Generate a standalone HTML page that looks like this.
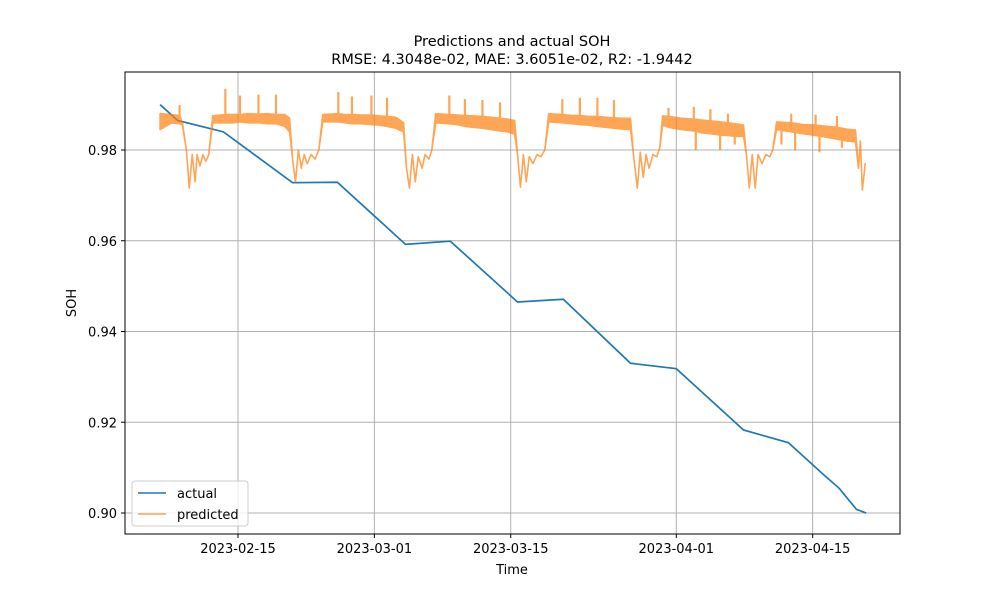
<!DOCTYPE html>
<html><head><meta charset="utf-8"><style>
body{margin:0;background:#fff;font-family:"Liberation Sans","DejaVu Sans",sans-serif}
svg text{font-family:"DejaVu Sans","Liberation Sans",sans-serif}
</style></head><body>
<svg id="chart" width="1000" height="600" viewBox="0 0 1000 600" xmlns="http://www.w3.org/2000/svg">
<rect width="1000" height="600" fill="#fff"/>
<text x="512" y="46" text-anchor="middle" font-size="14.5">Predictions and actual SOH</text>
<text x="512" y="64" text-anchor="middle" font-size="14.5">RMSE: 4.3048e-02, MAE: 3.6051e-02, R2: -1.9442</text>
<g id="grid"></g>
<g id="series"></g>
<rect x="125" y="72" width="775" height="462" fill="none" stroke="#000" stroke-width="1"/>
<g id="axes"></g>
<text x="512" y="574" text-anchor="middle" font-size="13">Time</text>
<text transform="translate(76,303) rotate(-90)" text-anchor="middle" font-size="13">SOH</text>
<g>
<rect x="132" y="481" width="116" height="45" rx="3" fill="#fff" fill-opacity="0.8" stroke="#ccc"/>
<line x1="138" y1="493" x2="166" y2="493" stroke="#1f77b4" stroke-width="1.6"/>
<text x="177" y="498" font-size="13">actual</text>
<line x1="138" y1="514" x2="166" y2="514" stroke="#ff7f0e" stroke-opacity="0.7" stroke-width="1.6"/>
<text x="177" y="519" font-size="13">predicted</text>
</g>
</svg>
<script>
// days are offsets from 2023-02-15
const xTickDays = [0, 14, 28, 45, 59];
const xTickLabels = ["2023-02-15","2023-03-01","2023-03-15","2023-04-01","2023-04-15"];
const yTicks = [0.90, 0.92, 0.94, 0.96, 0.98];
const actualDays = [-8.0,-6.2,-1.5,5.6,10.2,17.2,21.8,28.7,33.4,40.3,45.0,51.9,56.5,60.2,61.7,63.5,64.5];
const actualVals = [0.9900,0.9865,0.9840,0.9728,0.9729,0.9592,0.9599,0.9465,0.9471,0.9330,0.9318,0.9183,0.9155,0.9083,0.9055,0.9008,0.9000];
const predDays = [-8.0,-6.8,-6.0,-5.7,-5.3,-5.0,-4.7,-4.4,-4.2,-3.9,-3.6,-3.3,-3.0,-2.6,-1.3,-0.5,0.2,1.0,2.1,3.0,3.9,4.8,5.3,5.6,5.9,6.2,6.5,6.8,7.1,7.5,7.9,8.3,8.7,10.3,11.0,11.7,12.7,13.7,14.5,15.3,16.2,17.0,17.3,17.6,17.9,18.2,18.5,18.9,19.2,19.6,19.9,20.3,21.7,22.5,23.3,24.2,25.1,26.0,26.9,27.7,28.4,28.7,29.0,29.3,29.6,29.9,30.3,30.7,31.1,31.5,31.9,33.3,34.2,35.1,36.0,36.9,37.8,38.6,39.5,40.3,40.6,41.0,41.3,41.6,41.9,42.2,42.6,43.0,43.3,43.6,44.2,45.5,46.8,47.6,48.5,49.5,50.3,51.0,51.9,52.2,52.5,52.8,53.1,53.4,53.8,54.2,54.6,54.9,55.3,56.8,58.0,59.3,60.5,61.5,62.5,63.4,63.7,63.9,64.1,64.4];
const predHi = [0.9880,0.9878,0.9876,0.9860,0.9800,0.9716,0.9790,0.9730,0.9790,0.9765,0.9790,0.9775,0.9790,0.9875,0.9878,0.9878,0.9878,0.9880,0.9879,0.9880,0.9878,0.9878,0.9870,0.9780,0.9730,0.9800,0.9760,0.9790,0.9770,0.9790,0.9780,0.9800,0.9878,0.9880,0.9878,0.9878,0.9877,0.9877,0.9875,0.9874,0.9872,0.9860,0.9760,0.9716,0.9790,0.9730,0.9785,0.9760,0.9790,0.9780,0.9800,0.9880,0.9878,0.9877,0.9876,0.9875,0.9874,0.9872,0.9870,0.9868,0.9865,0.9790,0.9718,0.9790,0.9730,0.9785,0.9770,0.9790,0.9785,0.9800,0.9880,0.9878,0.9876,0.9876,0.9874,0.9874,0.9872,0.9871,0.9870,0.9870,0.9790,0.9716,0.9795,0.9740,0.9790,0.9760,0.9790,0.9785,0.9805,0.9875,0.9874,0.9870,0.9868,0.9866,0.9864,0.9862,0.9860,0.9858,0.9855,0.9790,0.9716,0.9790,0.9716,0.9790,0.9770,0.9790,0.9785,0.9800,0.9862,0.9860,0.9856,0.9855,0.9852,0.9850,0.9846,0.9844,0.9760,0.9820,0.9712,0.9770];
const predLo = [0.9845,0.9860,0.9858,0.9855,0.9800,0.9716,0.9790,0.9730,0.9790,0.9765,0.9790,0.9775,0.9790,0.9860,0.9860,0.9860,0.9862,0.9860,0.9860,0.9858,0.9858,0.9852,0.9840,0.9780,0.9730,0.9800,0.9760,0.9790,0.9770,0.9790,0.9780,0.9800,0.9862,0.9862,0.9860,0.9858,0.9858,0.9856,0.9855,0.9852,0.9848,0.9840,0.9760,0.9716,0.9790,0.9730,0.9785,0.9760,0.9790,0.9780,0.9800,0.9860,0.9858,0.9856,0.9852,0.9850,0.9848,0.9845,0.9842,0.9840,0.9835,0.9790,0.9718,0.9790,0.9730,0.9785,0.9770,0.9790,0.9785,0.9800,0.9862,0.9860,0.9858,0.9856,0.9855,0.9852,0.9850,0.9848,0.9846,0.9845,0.9790,0.9716,0.9795,0.9740,0.9790,0.9760,0.9790,0.9785,0.9805,0.9855,0.9850,0.9845,0.9842,0.9838,0.9836,0.9833,0.9832,0.9830,0.9830,0.9790,0.9716,0.9790,0.9716,0.9790,0.9770,0.9790,0.9785,0.9800,0.9845,0.9840,0.9836,0.9832,0.9828,0.9824,0.9820,0.9818,0.9760,0.9820,0.9712,0.9770];
const spikeDays = [-6.0,-1.3,0.2,2.1,3.9,10.3,11.7,13.7,15.3,21.7,23.3,25.1,26.9,33.3,35.1,36.9,38.6,44.2,46.8,48.5,50.3,56.8,59.3,61.5];
const spikeVals = [0.9899,0.9935,0.9920,0.9922,0.9922,0.9928,0.9918,0.9920,0.9915,0.9920,0.9912,0.9910,0.9905,0.9912,0.9915,0.9915,0.9910,0.9893,0.9895,0.9890,0.9880,0.9880,0.9878,0.9875];
const dipDays = [47.0,49.5,51.0,55.8,57.2,59.7,62.0];
const dipVals = [0.9800,0.9800,0.9812,0.9812,0.9800,0.9795,0.9805];

const NS = "http://www.w3.org/2000/svg";
function xS(d){ return 238 + d * 9.74; }
function yS(v){ return 513 - (v - 0.90) / 0.02 * 90.75; }
function mk(tag, attrs, parent){
  const e = document.createElementNS(NS, tag);
  for (const k in attrs) e.setAttribute(k, attrs[k]);
  parent.appendChild(e); return e;
}
function interp(d, arr){
  for (let i=0;i<predDays.length-1;i++){
    if (d>=predDays[i] && d<=predDays[i+1]){
      const t=(d-predDays[i])/(predDays[i+1]-predDays[i]);
      return arr[i]+(arr[i+1]-arr[i])*t;
    }
  }
  return arr[arr.length-1];
}
const grid = document.getElementById('grid');
const axes = document.getElementById('axes');
const series = document.getElementById('series');
xTickDays.forEach((d,i)=>{
  const x = xS(d);
  const g = mk('line',{x1:x,x2:x,y1:72,y2:534,stroke:'#b0b0b0','stroke-width':1},grid);
  
  
  const t = mk('line',{x1:x,x2:x,y1:534,y2:538,stroke:'#000'},axes);
  
  
  const l = mk('text',{x:x,y:553,'text-anchor':'middle','font-size':13},axes);
  l.textContent = xTickLabels[i];
  
  
});
yTicks.forEach(v=>{
  const y = yS(v);
  const g = mk('line',{x1:125,x2:900,y1:y,y2:y,stroke:'#b0b0b0','stroke-width':1},grid);
  
  
  const t = mk('line',{x1:121,x2:125,y1:y,y2:y,stroke:'#000'},axes);
  
  
  const l = mk('text',{x:117,y:y+5,'text-anchor':'end','font-size':13},axes);
  l.textContent = v.toFixed(2);
  
  
});
const aPts = actualDays.map((d,i)=>xS(d)+','+yS(actualVals[i])).join(' ');
const actual = mk('polyline',{points:aPts,fill:'none',stroke:'#1f77b4','stroke-width':1.7},series);


const hiPts = predDays.map((d,i)=>xS(d)+','+yS(predHi[i]));
const loPts = predDays.map((d,i)=>xS(d)+','+yS(predLo[i])).reverse();
const pg = mk('g',{opacity:0.7},series);
const pred = mk('polygon',{points:hiPts.concat(loPts).join(' '),fill:'#ff7f0e',stroke:'#ff7f0e','stroke-width':1.6,'stroke-linejoin':'round'},pg);


spikeDays.forEach((d,i)=>{
  const x=xS(d);
  const s = mk('line',{x1:x,x2:x,y1:yS(interp(d,predLo)),y2:yS(spikeVals[i]),stroke:'#ff7f0e','stroke-width':2.2},pg);
  
  
});
dipDays.forEach((d,i)=>{
  const x=xS(d);
  const s = mk('line',{x1:x,x2:x,y1:yS(interp(d,predHi)),y2:yS(dipVals[i]),stroke:'#ff7f0e','stroke-width':2.2},pg);
  
  
});
</script>
</body></html>
